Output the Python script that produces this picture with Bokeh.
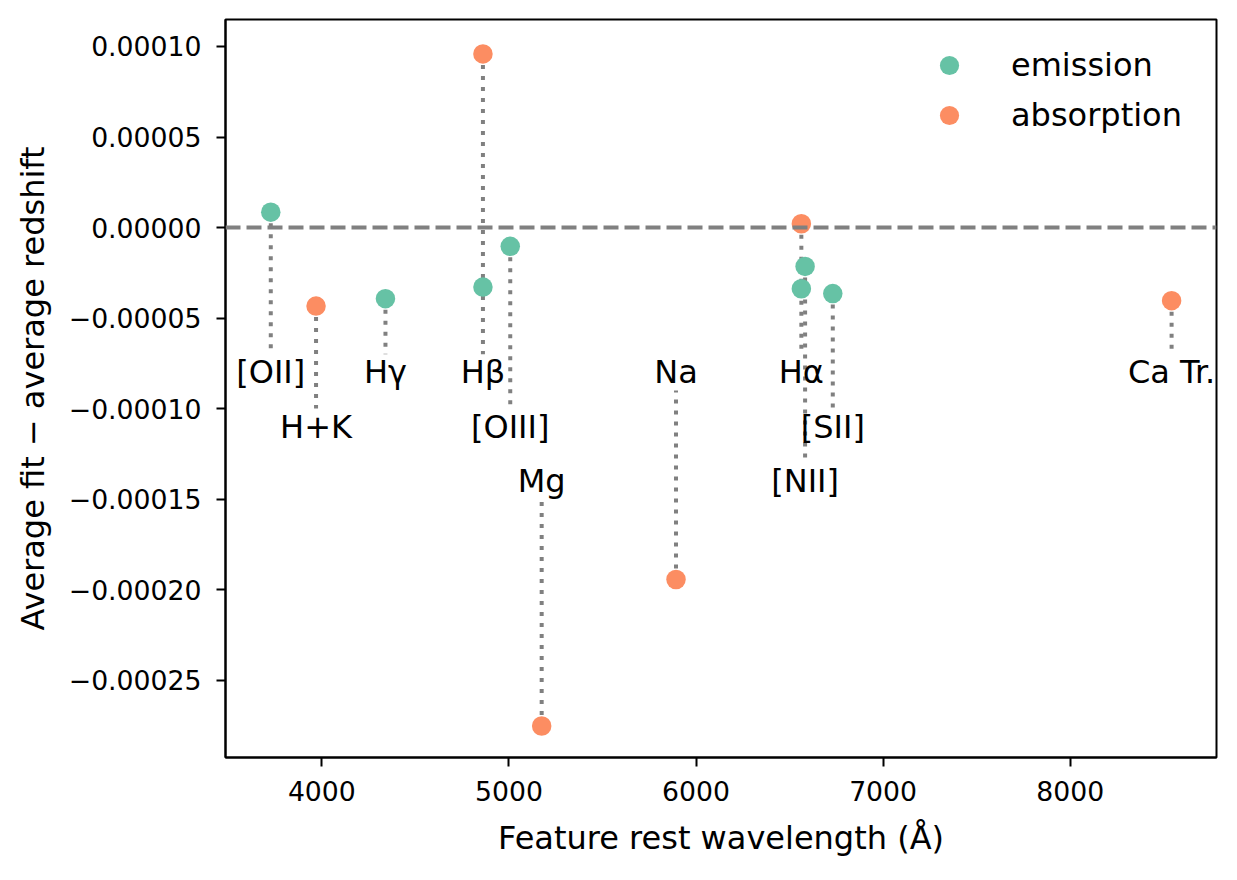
from bokeh.plotting import figure
from bokeh.models import Range1d, FixedTicker, CustomJSTickFormatter, Span, Legend, LegendItem
from bokeh.embed import file_html
from bokeh.resources import INLINE
from bokeh.core.properties import value

# ---------------- data ----------------
emission_names = ["[OII]", "Hγ", "Hβ", "[OIII]", "Hα", "[NII]", "[SII]"]
emission_wavelength = [3727, 4340, 4861, 5007, 6563, 6583, 6731]
emission_offset = [8.5e-6, -3.93e-5, -3.29e-5, -1.04e-5, -3.38e-5, -2.15e-5, -3.65e-5]

absorption_names = ["H+K", "Hβ", "Mg", "Na", "Hα", "Ca Tr."]
absorption_wavelength = [3969, 4861, 5175, 5893, 6563, 8542]
absorption_offset = [-4.34e-5, 9.59e-5, -2.753e-4, -1.944e-4, 2.1e-6, -4.04e-5]

label_names = ["[OII]", "H+K", "Hγ", "Hβ", "[OIII]", "Mg", "Na", "Hα", "[NII]", "[SII]", "Ca Tr."]
label_wavelength = [3727, 3969, 4340, 4861, 5007, 5175, 5893, 6563, 6583, 6731, 8542]
label_level = [-8e-5, -1.1e-4, -8e-5, -8e-5, -1.1e-4, -1.4e-4, -8e-5, -8e-5, -1.4e-4, -1.1e-4, -8e-5]

x_ticks = [4000, 5000, 6000, 7000, 8000]
y_ticks = [-0.00025, -0.0002, -0.00015, -0.0001, -0.00005, 0.0, 0.00005, 0.0001]

EMISSION_COLOR = "#66c2a5"
ABSORPTION_COLOR = "#fc8d62"
GREY = "#808080"
FONT = "DejaVu Sans"
GAP = 1e-5  # gap between stem end and label centre (data units)

# ---------------- figure ----------------
p = figure(frame_width=991, frame_height=738,
           min_border_left=225, min_border_right=21,
           min_border_top=19, min_border_bottom=122,
           x_range=Range1d(3485, 8782), y_range=Range1d(-2.927e-4, 1.149e-4),
           output_backend="svg", toolbar_location=None,
           background_fill_color="white", border_fill_color="white")

p.xgrid.grid_line_color = None
p.ygrid.grid_line_color = None
p.outline_line_color = "black"
p.outline_line_width = 2

p.xaxis.ticker = FixedTicker(ticks=x_ticks)
p.yaxis.ticker = FixedTicker(ticks=y_ticks)
p.yaxis.formatter = CustomJSTickFormatter(code="""
    const s = Math.abs(tick).toFixed(5);
    return (tick < -1e-12 ? "\\u2212" : "") + s;
""")

for ax in (p.xaxis[0], p.yaxis[0]):
    ax.axis_line_width = 2
    ax.axis_line_color = "black"
    ax.major_tick_line_width = 2
    ax.major_tick_out = 9
    ax.major_tick_in = 0
    ax.minor_tick_line_color = None
    ax.major_label_text_font = FONT
    ax.major_label_text_font_size = "26.7px"
    ax.major_label_text_color = "black"
    ax.axis_label_text_font = FONT
    ax.axis_label_text_font_size = "32px"
    ax.axis_label_text_font_style = "normal"
    ax.axis_label_text_color = "black"

p.xaxis.axis_label = "Feature rest wavelength (Å)"
p.yaxis.axis_label = "Average fit − average redshift"
p.xaxis.major_label_standoff = 14
p.yaxis.major_label_standoff = 15
p.xaxis.axis_label_standoff = 15
p.yaxis.axis_label_standoff = 14

# zero line
p.add_layout(Span(location=0, dimension="width", line_color=GREY,
                  line_width=4, line_dash="15 6"))

# stems: one per label, from the point farthest from the label
stem_x, stem_y0, stem_y1 = [], [], []
for name, wl, lvl in zip(label_names, label_wavelength, label_level):
    vals = [v for n, v in zip(emission_names, emission_offset) if n == name]
    vals += [v for n, v in zip(absorption_names, absorption_offset) if n == name]
    far = max(vals, key=lambda v: abs(v - lvl))
    end = lvl + GAP if far > lvl else lvl - GAP
    stem_x.append(wl)
    stem_y0.append(far)
    stem_y1.append(end)

p.segment(x0=stem_x, y0=stem_y0, x1=stem_x, y1=stem_y1,
          line_color=GREY, line_width=4, line_dash="4 7")

p.text(x=label_wavelength, y=label_level, text=label_names,
       text_align="center", text_baseline="alphabetic", y_offset=0,
       text_font=value(FONT), text_font_size=value("32px"), text_color="black")

r_em = p.scatter(x=emission_wavelength, y=emission_offset, size=19.5,
                 fill_color=EMISSION_COLOR, line_color=None)
r_ab = p.scatter(x=absorption_wavelength, y=absorption_offset, size=19.5,
                 fill_color=ABSORPTION_COLOR, line_color=None)

legend = Legend(items=[LegendItem(label="emission", renderers=[r_em]),
                       LegendItem(label="absorption", renderers=[r_ab])],
                location="top_right", margin=22, padding=13, spacing=2,
                glyph_width=48, glyph_height=48, label_standoff=38,
                label_width=183, label_height=48,
                label_text_font=FONT, label_text_font_size="32px",
                label_text_color="black",
                border_line_color=None, background_fill_alpha=0)
p.add_layout(legend)

open("out.html", "w").write(file_html(p, INLINE))
